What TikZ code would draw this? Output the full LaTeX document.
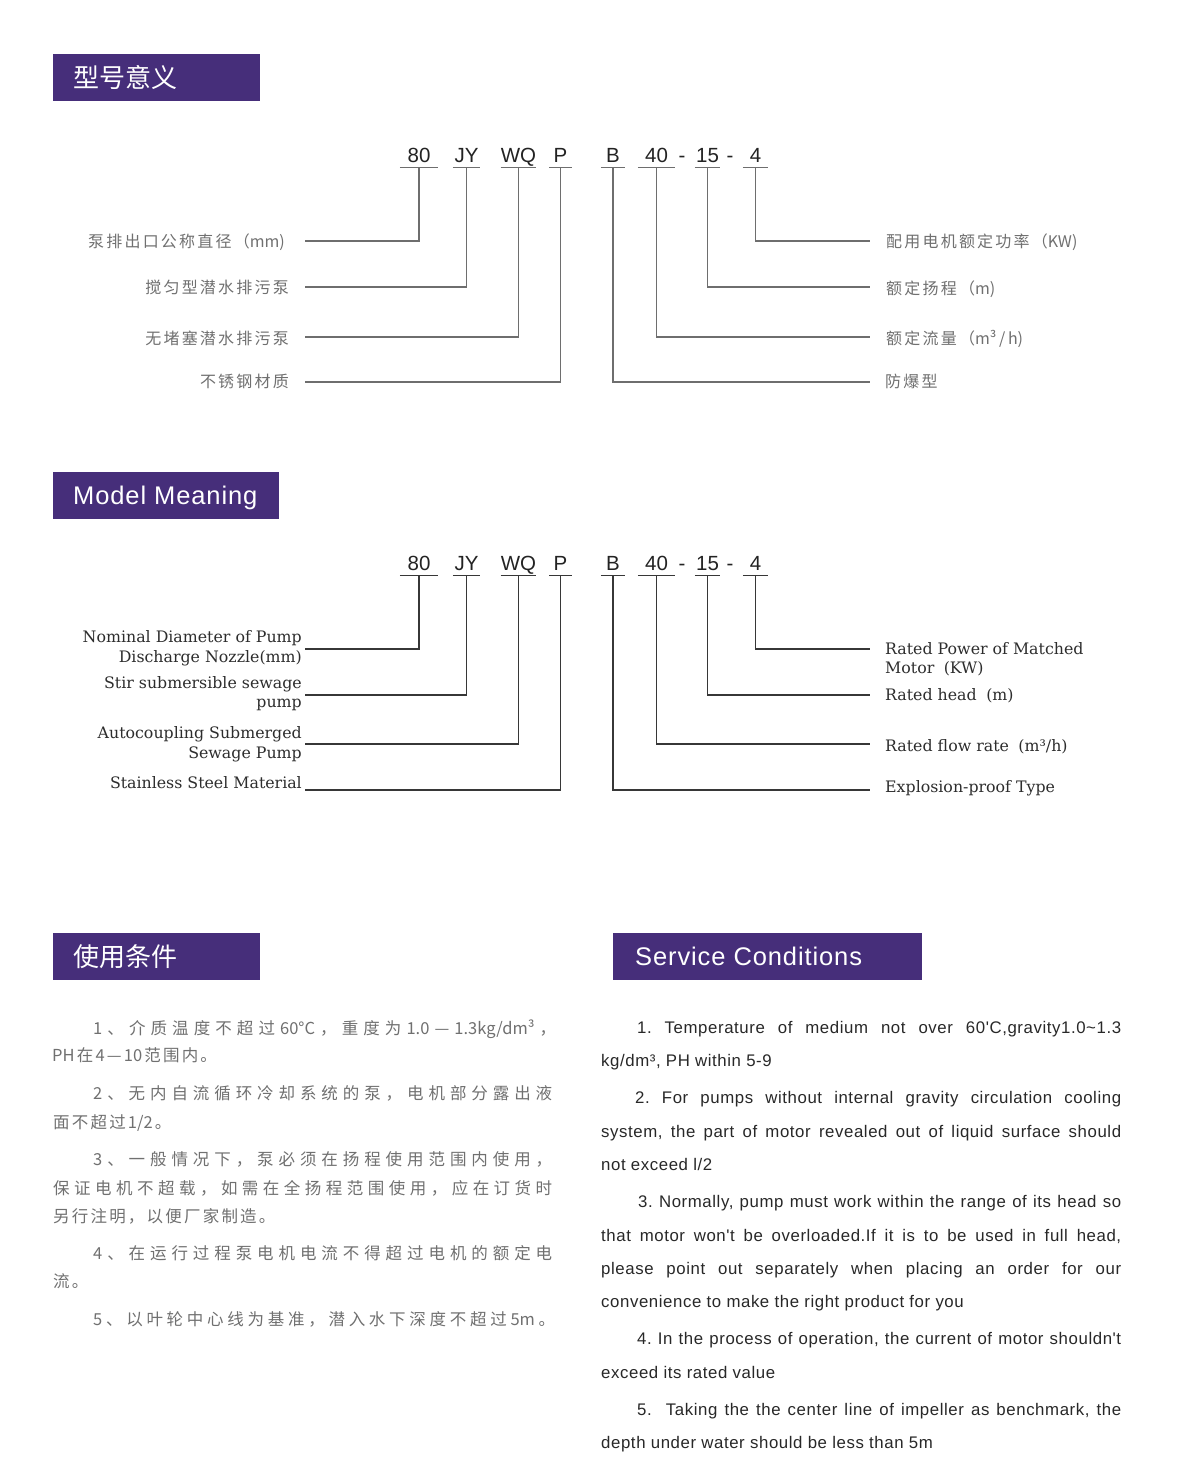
\documentclass[tikz,border=0pt]{standalone}
\usepackage{fontspec}
\newfontfamily\cjk{Noto Sans CJK SC}
\newfontfamily\ensans{Liberation Sans}
\newfontfamily\enbodyfont{Liberation Sans}[LetterSpace=3.5]
\newfontfamily\hdren{Liberation Sans}[LetterSpace=3.5]
\newfontfamily\enserif{DejaVu Serif}
\definecolor{hdrpurple}{RGB}{70,46,122}
\definecolor{cjkgray}{RGB}{112,112,112}
\definecolor{codecol}{RGB}{35,35,35}
\definecolor{labcol}{RGB}{45,45,45}
\definecolor{bodycol}{RGB}{40,40,40}
\definecolor{lineA}{RGB}{110,110,110}
\definecolor{lineB}{RGB}{55,55,55}
\ExplSyntaxOn
\NewDocumentCommand \spreadtext { m m }
  { \tl_map_inline:nn { #2 } { ##1 #1 } \unskip }
\ExplSyntaxOff
\newcommand\cjknat[1]{\spreadtext{\hskip 2.2pt}{#1}}
\newcommand\cjkjust[2]{\makebox[#1][s]{\spreadtext{\hskip 0pt plus 1fil}{#2}}}
\newcommand\enjust[2]{\makebox[#1][s]{#2}}
\newcommand\coderow[2]{%
  \node[codetxt, minimum width=38pt] (#1a) at (419,#2) {80};
  \node[codetxt, minimum width=27pt] (#1b) at (466.5,#2) {JY};
  \node[codetxt, minimum width=30pt] (#1c) at (518.5,#2) {WQ};
  \node[codetxt, minimum width=22pt] (#1d) at (560.5,#2) {P};
  \node[codetxt, minimum width=24pt] (#1e) at (613,#2) {B};
  \node[codetxt, minimum width=37pt] (#1f) at (656.5,#2) {40};
  \node[codetxt] (#1g) at (682,#2) {-};
  \node[codetxt, minimum width=25pt] (#1h) at (707.5,#2) {15};
  \node[codetxt] (#1i) at (730,#2) {-};
  \node[codetxt, minimum width=25pt] (#1j) at (755.5,#2) {4};
}
\frenchspacing
\begin{document}
\frenchspacing
\begin{tikzpicture}[x=1pt,y=-1pt,
  hdrbox/.style={fill=hdrpurple, draw=none, anchor=north west, minimum height=47pt, inner sep=0pt},
  hdrcjk/.style={font=\cjk\fontsize{26}{30}\selectfont, text=white, anchor=west, inner sep=0pt, text height=22.9pt, text depth=3.1pt},
  hdrlat/.style={font=\hdren\fontsize{25.5}{30}\selectfont, text=white, anchor=west, inner sep=0pt, text height=18.3pt, text depth=0pt},
  codetxt/.style={font=\ensans\fontsize{20.5}{24}\selectfont, text=codecol, anchor=base, inner xsep=0pt, inner ysep=5pt, text depth=0pt},
  cjklab/.style={font=\cjk\fontsize{16}{19}\selectfont, text=cjkgray, inner sep=0pt, text height=14.1pt, text depth=1.9pt},
  enlab/.style={font=\enserif\fontsize{15.8}{19}\selectfont, text=labcol, inner sep=0pt},
  cjkbody/.style={font=\cjk\fontsize{16.5}{20}\selectfont, text=cjkgray, inner sep=0pt, text height=14.5pt, text depth=2pt, anchor=west},
  enbody/.style={font=\enbodyfont\fontsize{16.8}{20}\selectfont\frenchspacing, text=bodycol, inner sep=0pt, anchor=base west},
  lnA/.style={draw=lineA, line width=1.4pt},
  lnB/.style={draw=lineB, line width=1.2pt}
]
\fill[white] (0,0) rectangle (1204,1473);
\useasboundingbox (0,0) rectangle (1204,1473);

% ---------- headers ----------
\node[hdrbox, minimum width=207pt] (h1) at (53,54) {};
\node[hdrcjk] (t1) at ([xshift=20pt]h1.west) {型号意义};
\node[hdrbox, minimum width=226pt] (h2) at (53,472) {};
\node[hdrlat] (t2) at ([xshift=20pt]h2.west) {Model Meaning};
\node[hdrbox, minimum width=207pt] (h3) at (53,933) {};
\node[hdrcjk] (t3) at ([xshift=20pt]h3.west) {使用条件};
\node[hdrbox, minimum width=309pt] (h4) at (613,933) {};
\node[hdrlat] (t4) at ([xshift=22pt]h4.west) {Service Conditions};

% ---------- section 1 ----------
\coderow{A}{162}
\foreach \n in {a,b,c,d,e,f,h,j} \draw[lnA] (A\n.south west) -- (A\n.south east);
\coordinate (la1) at (305,241);
\coordinate (la2) at (305,287);
\coordinate (la3) at (305,337);
\coordinate (la4) at (305,382);
\coordinate (ra1) at (870,241);
\coordinate (ra2) at (870,287);
\coordinate (ra3) at (870,337);
\coordinate (ra4) at (870,382);
\draw[lnA] (Aa.south) |- (la1);
\draw[lnA] (Ab.south) |- (la2);
\draw[lnA] (Ac.south) |- (la3);
\draw[lnA] (Ad.south) |- (la4);
\draw[lnA] (Ae.south) |- (ra4);
\draw[lnA] (Af.south) |- (ra3);
\draw[lnA] (Ah.south) |- (ra2);
\draw[lnA] (Aj.south) |- (ra1);
\node[cjklab, anchor=east] (cl1) at (285,241) {\cjknat{泵排出口公称直径（}mm)};
\node[cjklab, anchor=east] (cl2) at (289,287) {\cjknat{搅匀型潜水排污泵}};
\node[cjklab, anchor=east] (cl3) at (289,338) {\cjknat{无堵塞潜水排污泵}};
\node[cjklab, anchor=east] (cl4) at (289,381) {\cjknat{不锈钢材质}};
\node[cjklab, anchor=west] (cr1) at (886,241) {\cjknat{配用电机额定功率（}KW)};
\node[cjklab, anchor=west] (cr2) at (886,288) {\cjknat{额定扬程（}m)};
\node[cjklab, anchor=west] (cr3) at (886,338) {\cjknat{额定流量（}m³\,/\,h)};
\node[cjklab, anchor=west] (cr4) at (885,381) {\cjknat{防爆型}};

% ---------- section 2 ----------
\coderow{B}{570}
\foreach \n in {a,b,c,d,e,f,h,j} \draw[lnB] (B\n.south west) -- (B\n.south east);
\coordinate (lb1) at (305,649);
\coordinate (lb2) at (305,695);
\coordinate (lb3) at (305,744);
\coordinate (lb4) at (305,790);
\coordinate (rb1) at (870,649);
\coordinate (rb2) at (870,695);
\coordinate (rb3) at (870,744);
\coordinate (rb4) at (870,790);
\draw[lnB] (Ba.south) |- (lb1);
\draw[lnB] (Bb.south) |- (lb2);
\draw[lnB] (Bc.south) |- (lb3);
\draw[lnB] (Bd.south) |- (lb4);
\draw[lnB] (Be.south) |- (rb4);
\draw[lnB] (Bf.south) |- (rb3);
\draw[lnB] (Bh.south) |- (rb2);
\draw[lnB] (Bj.south) |- (rb1);
\node[enlab, anchor=base east] (el1a) at (302,642) {Nominal Diameter of Pump};
\node[enlab, anchor=base east] (el1b) at (302,662) {Discharge Nozzle(mm)};
\node[enlab, anchor=base east] (el2a) at (302,688) {Stir submersible sewage};
\node[enlab, anchor=base east] (el2b) at (302,707) {pump};
\node[enlab, anchor=base east] (el3a) at (302,738) {Autocoupling Submerged};
\node[enlab, anchor=base east] (el3b) at (302,758) {Sewage Pump};
\node[enlab, anchor=base east] (el4) at (302,788) {Stainless Steel Material};
\node[enlab, anchor=base west] (er1a) at (885,654) {Rated Power of Matched};
\node[enlab, anchor=base west] (er1b) at (885,673) {Motor\hspace{0.6em}(KW)};
\node[enlab, anchor=base west] (er2) at (885,700) {Rated head\hspace{0.6em}(m)};
\node[enlab, anchor=base west] (er3) at (885,751) {Rated flow rate\hspace{0.6em}(m³/h)};
\node[enlab, anchor=base west] (er4) at (885,792) {Explosion-proof Type};

% ---------- Chinese conditions ----------
\node[cjkbody] (z1) at (93,1028) {\cjkjust{463pt}{{1}、介质温度不超过{60°C}，重度为{1.0}—{1.3kg/dm³}，}};
\node[cjkbody] (z2) at (52,1055.5) {\cjknat{{PH}在{4}—{10}范围内。}};
\node[cjkbody] (z3) at (93,1093) {\cjkjust{459pt}{{2}、无内自流循环冷却系统的泵，电机部分露出液}};
\node[cjkbody] (z4) at (53,1122) {\cjknat{面不超过{1/2}。}};
\node[cjkbody] (z5) at (93,1159) {\cjkjust{459pt}{{3}、一般情况下，泵必须在扬程使用范围内使用，}};
\node[cjkbody] (z6) at (53,1188) {\cjkjust{499pt}{保证电机不超载，如需在全扬程范围使用，应在订货时}};
\node[cjkbody] (z7) at (53,1216) {\cjknat{另行注明，以便厂家制造。}};
\node[cjkbody] (z8) at (93,1253) {\cjkjust{459pt}{{4}、在运行过程泵电机电流不得超过电机的额定电}};
\node[cjkbody] (z9) at (53,1281.5) {\cjknat{流。}};
\node[cjkbody] (z10) at (93,1319) {\cjkjust{462pt}{{5}、以叶轮中心线为基准，潜入水下深度不超过{5m}。}};

% ---------- English conditions ----------
\node[enbody] (s1) at (637,1033) {\enjust{484pt}{1. Temperature of medium not over 60'C,gravity1.0\char"007E 1.3}};
\node[enbody] (s2) at (601,1066) {kg/dm³, PH within 5-9};
\node[enbody] (s3) at (635,1103) {\enjust{486pt}{2. For pumps without internal gravity circulation cooling}};
\node[enbody] (s4) at (601,1137) {\enjust{520pt}{system, the part of motor revealed out of liquid surface should}};
\node[enbody] (s5) at (601,1170) {not exceed l/2};
\node[enbody] (s6) at (638,1207) {\enjust{483pt}{3. Normally, pump must work within the range of its head so}};
\node[enbody] (s7) at (601,1241) {\enjust{520pt}{that motor won't be overloaded.If it is to be used in full head,}};
\node[enbody] (s8) at (601,1274) {\enjust{520pt}{please point out separately when placing an order for our}};
\node[enbody] (s9) at (601,1307) {convenience to make the right product for you};
\node[enbody] (s10) at (637,1344) {\enjust{484pt}{4. In the process of operation, the current of motor shouldn't}};
\node[enbody] (s11) at (601,1378) {exceed its rated value};
\node[enbody] (s12) at (637,1415) {\enjust{484pt}{5.\ \ Taking the the center line of impeller as benchmark, the}};
\node[enbody] (s13) at (601,1448) {depth under water should be less than 5m};
\end{tikzpicture}
\end{document}
